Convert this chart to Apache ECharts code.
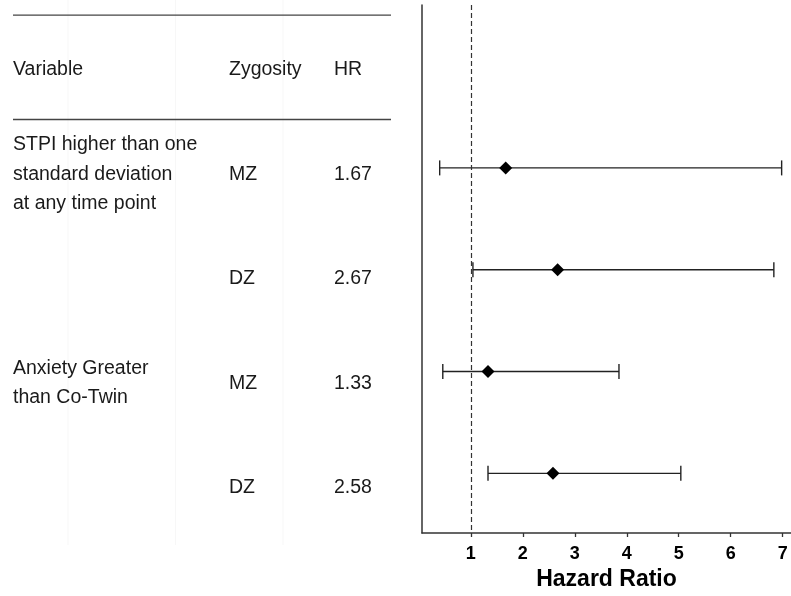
<!DOCTYPE html>
<html>
<head>
<meta charset="utf-8">
<script src="https://cdn.jsdelivr.net/npm/echarts@6/dist/echarts.min.js"></script>
<style>
html,body{margin:0;padding:0;background:#fff;}
#chart{width:791px;height:596px;}
</style>
</head>
<body>
<div id="chart"></div>
<script>
// ---- data ----
const headers = ['Variable', 'Zygosity', 'HR'];
const variableLabels = ['STPI higher than one\nstandard deviation\nat any time point', '', 'Anxiety Greater\nthan Co-Twin', ''];
const zygosity = ['MZ', 'DZ', 'MZ', 'DZ'];
const hr = [1.67, 2.67, 1.33, 2.58];
const ciLow = [0.40, 1.04, 0.46, 1.33];
const ciHigh = [6.98, 6.83, 3.85, 5.04];
const xTicks = [1, 2, 3, 4, 5, 6, 7];
const refValue = 1;

// ---- layout constants ----
const colX = [13, 229, 334];
const tableRuleRows = [-1.5, -0.5];
const tableGuideX = [68, 175.5, 283];
const FONT = '"Liberation Sans", Arial, sans-serif';
const TEXT_DY = 2.5;

const rows = hr.map((_, i) => i);

// table text items: [x, row, text]
const tableText = [];
headers.forEach((h, c) => tableText.push([colX[c], -1, h]));
rows.forEach(i => {
  if (variableLabels[i]) tableText.push([colX[0], i, variableLabels[i]]);
  tableText.push([colX[1], i, zygosity[i]]);
  tableText.push([colX[2], i, hr[i].toFixed(2)]);
});

const chart = echarts.init(document.getElementById('chart'), null, {renderer: 'canvas'});

const option = {
  animation: false,
  backgroundColor: '#fff',
  grid: [
    {left: 422, right: 0, top: 5, bottom: 63, containLabel: false},
    {left: 0, width: 391, top: 5, bottom: 63, containLabel: false}
  ],
  xAxis: [
    {
      type: 'value', gridIndex: 0, min: 0.06, max: 7.16,
      name: 'Hazard Ratio', nameLocation: 'middle', nameGap: 32,
      nameTextStyle: {fontFamily: FONT, fontSize: 23, fontWeight: 'bold', color: '#000'},
      axisLine: {show: true, onZero: false, lineStyle: {color: '#333', width: 1.5}},
      axisTick: {show: true, length: 4, customValues: xTicks, lineStyle: {color: '#333', width: 1.3}},
      axisLabel: {show: true, customValues: xTicks, margin: 12, fontFamily: FONT, fontSize: 18, fontWeight: 'bold', color: '#000',
        formatter: v => (xTicks.indexOf(v) >= 0 ? String(v) : '')},
      splitLine: {show: false}
    },
    {
      type: 'value', gridIndex: 1, min: 0, max: 391, show: false
    }
  ],
  yAxis: [
    {
      type: 'value', gridIndex: 0, inverse: true, min: -1.6, max: 3.586,
      axisLine: {show: true, onZero: false, lineStyle: {color: '#333', width: 1.5}},
      axisTick: {show: false}, axisLabel: {show: false}, splitLine: {show: false}
    },
    {
      type: 'value', gridIndex: 1, inverse: true, min: -1.596, max: 3.457, show: false
    }
  ],
  series: [
    // faint guide lines in table panel
    {
      type: 'custom', xAxisIndex: 1, yAxisIndex: 1, silent: true, z: 1,
      data: tableGuideX.map(x => [x]),
      renderItem: function (params, api) {
        const top = api.coord([api.value(0), -1.596]);
        const bot = api.coord([api.value(0), 3.457]);
        return {type: 'line', shape: {x1: top[0], y1: top[1] - 5, x2: bot[0], y2: bot[1] + 12},
          style: {stroke: '#f7f7f7', lineWidth: 1}};
      }
    },
    // table horizontal rules
    {
      type: 'custom', xAxisIndex: 1, yAxisIndex: 1, silent: true, z: 2,
      data: tableRuleRows.map(r => [colX[0], 391, r]),
      renderItem: function (params, api) {
        const a = api.coord([api.value(0), api.value(2)]);
        const b = api.coord([api.value(1), api.value(2)]);
        return {type: 'line', shape: {x1: a[0], y1: a[1], x2: b[0], y2: b[1]},
          style: {stroke: '#444', lineWidth: 1.3}};
      }
    },
    // table text
    {
      type: 'custom', xAxisIndex: 1, yAxisIndex: 1, silent: true, z: 3,
      data: tableText,
      renderItem: function (params, api) {
        const item = tableText[params.dataIndex];
        const p = api.coord([item[0], item[1]]);
        return {type: 'text', x: p[0], y: p[1] + TEXT_DY,
          style: {text: item[2], fill: '#1a1a1a', font: '19.5px ' + FONT, align: 'left', verticalAlign: 'middle', lineHeight: 29.5}};
      }
    },
    // error bars
    {
      type: 'custom', xAxisIndex: 0, yAxisIndex: 0, silent: true, z: 4,
      data: rows.map(i => [ciLow[i], ciHigh[i], i]),
      renderItem: function (params, api) {
        const a = api.coord([api.value(0), api.value(2)]);
        const b = api.coord([api.value(1), api.value(2)]);
        const h = 7.5;
        const st = {stroke: '#222', lineWidth: 1.4};
        return {type: 'group', children: [
          {type: 'line', shape: {x1: a[0], y1: a[1], x2: b[0], y2: b[1]}, style: st},
          {type: 'line', shape: {x1: a[0], y1: a[1] - h, x2: a[0], y2: a[1] + h}, style: st},
          {type: 'line', shape: {x1: b[0], y1: b[1] - h, x2: b[0], y2: b[1] + h}, style: st}
        ]};
      }
    },
    // point estimates
    {
      type: 'scatter', xAxisIndex: 0, yAxisIndex: 0, z: 5,
      symbol: 'diamond', symbolSize: 13,
      itemStyle: {color: '#000', opacity: 1},
      data: rows.map(i => [hr[i], i]),
      markLine: {
        silent: true, symbol: ['none', 'none'], label: {show: false},
        lineStyle: {color: '#333', type: [5, 3], width: 1.2},
        data: [{xAxis: refValue}]
      }
    }
  ]
};
chart.setOption(option);
</script>
</body>
</html>
